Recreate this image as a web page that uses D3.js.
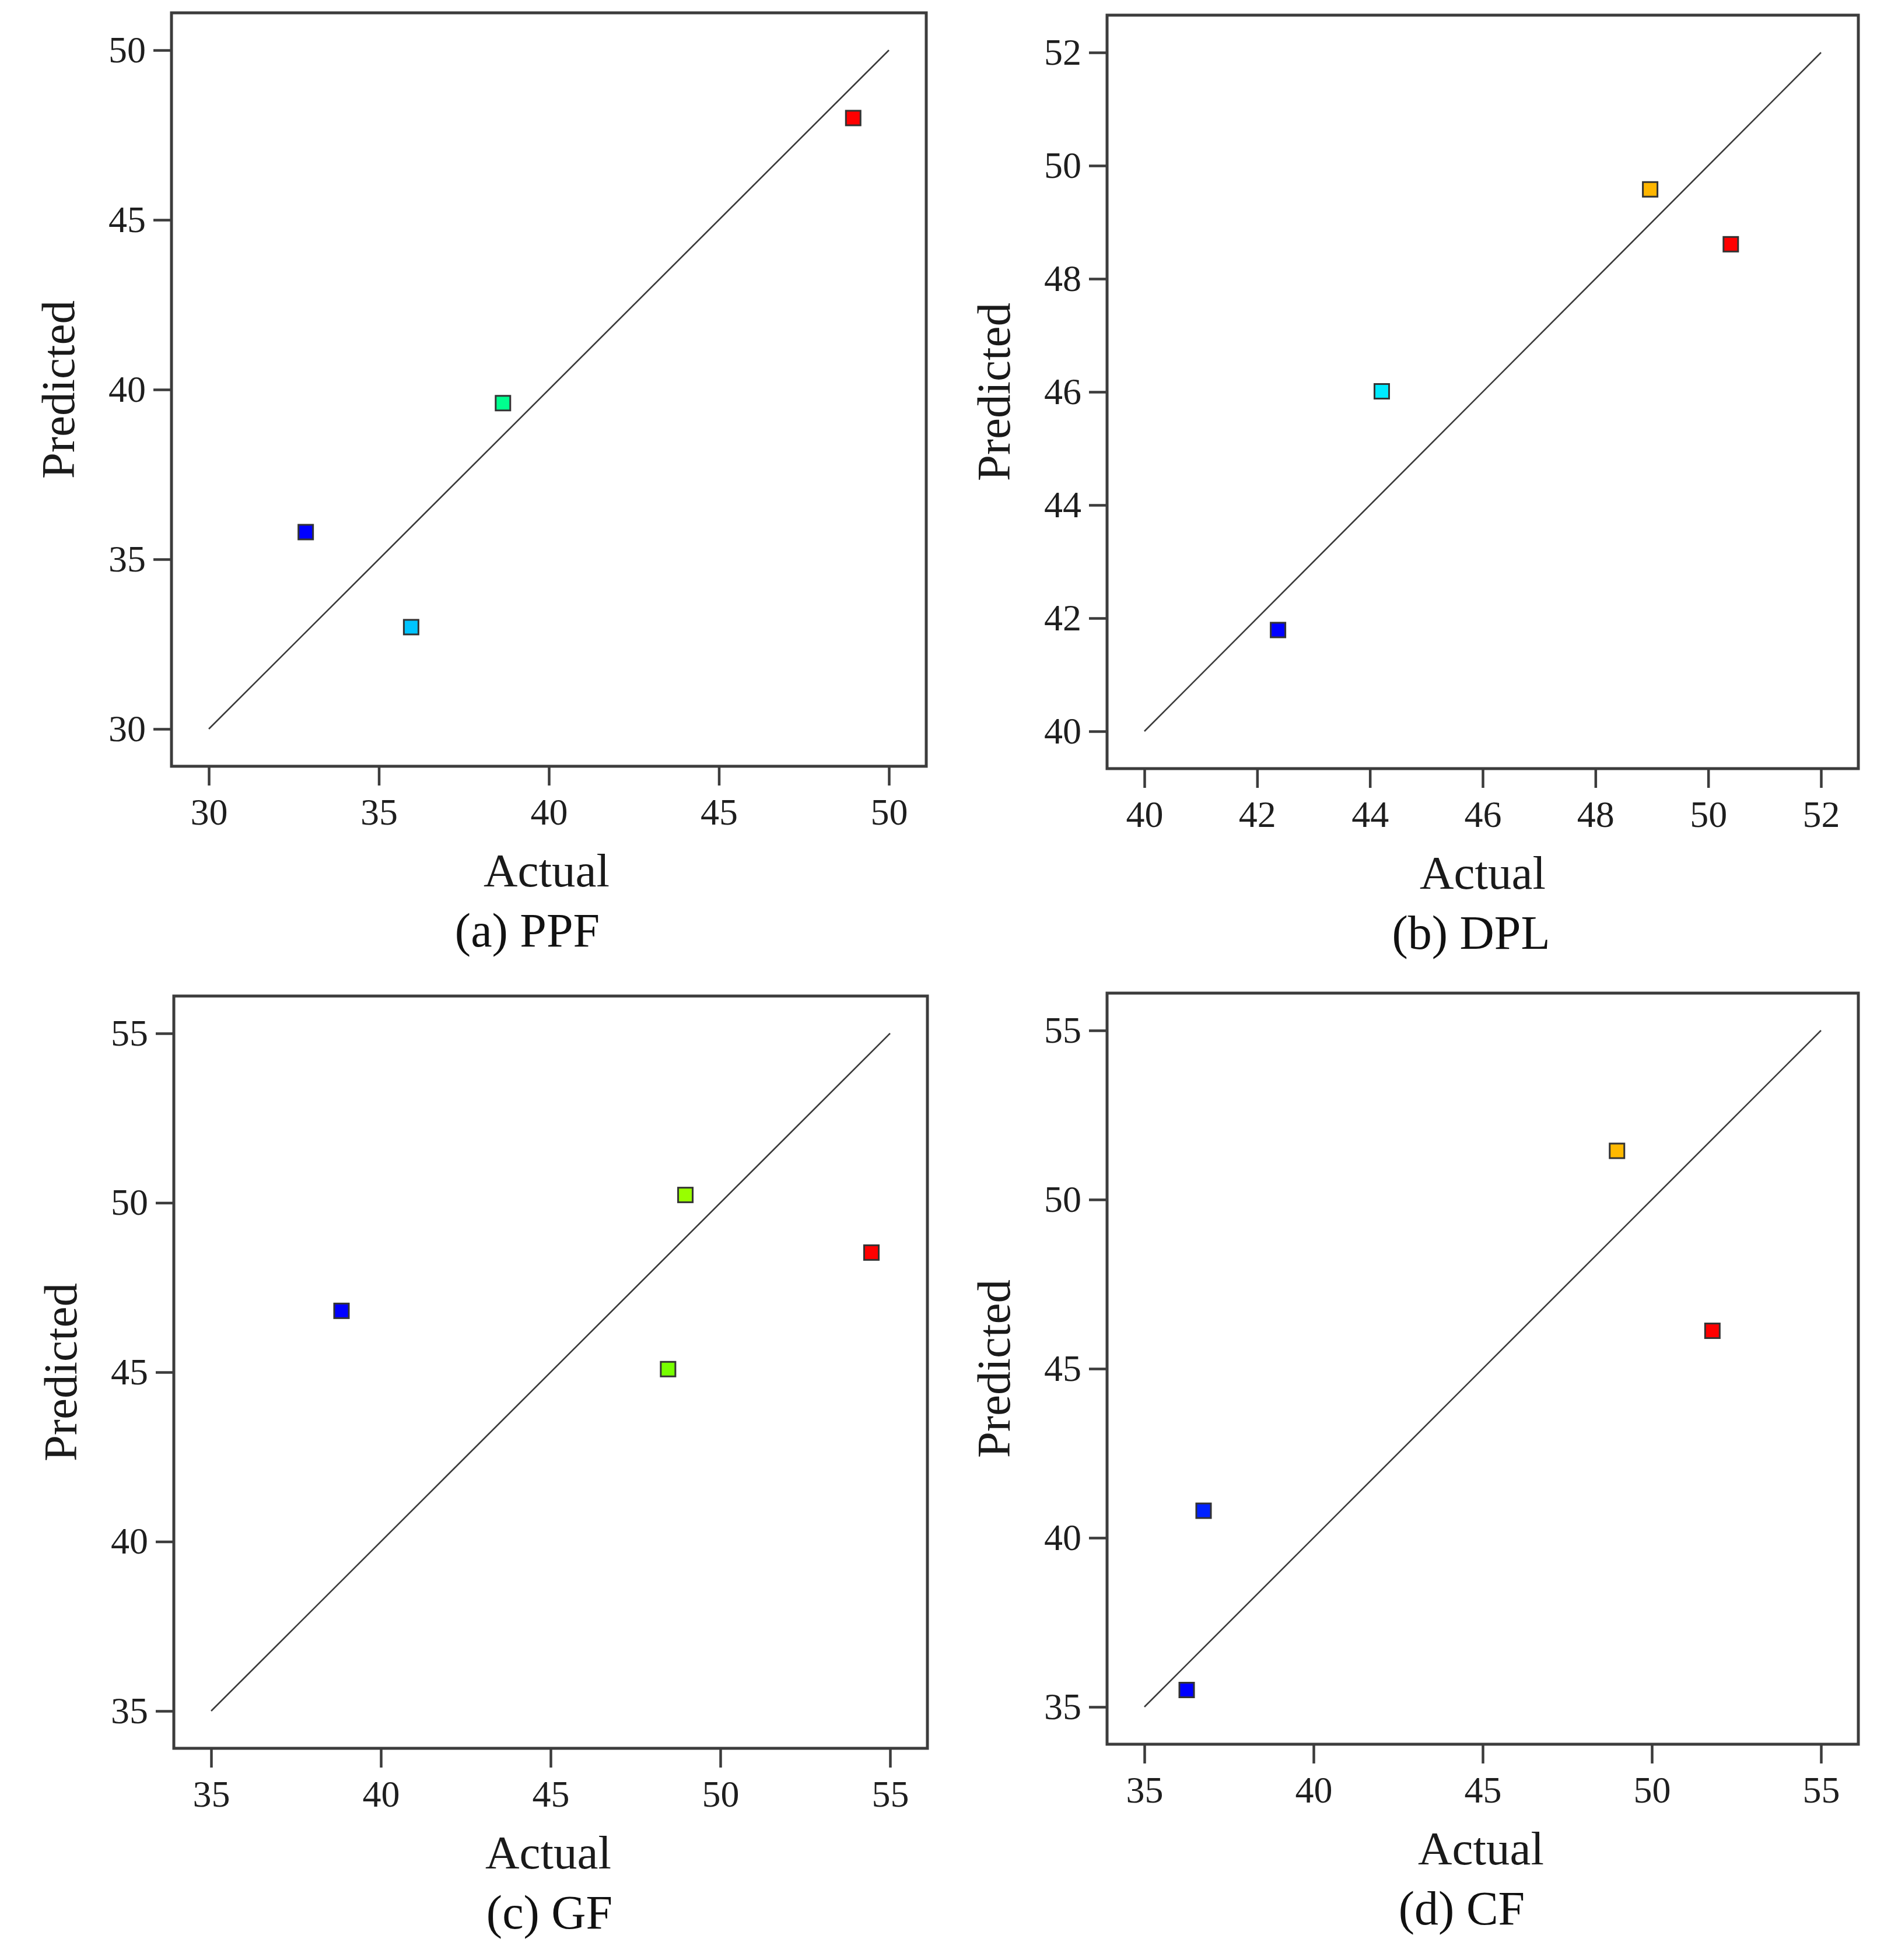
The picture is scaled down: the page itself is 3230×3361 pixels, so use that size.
<!DOCTYPE html>
<html>
<head>
<meta charset="utf-8">
<script src="https://cdn.jsdelivr.net/npm/d3@7"></script>
<style>
body { margin: 0; background: #fff; }
</style>
</head>
<body>
<script>
// tick values of each panel (same ticks on both axes)
var ppfTicks = [30, 35, 40, 45, 50];
var dplTicks = [40, 42, 44, 46, 48, 50, 52];
var gfTicks = [35, 40, 45, 50, 55];
var cfTicks = [35, 40, 45, 50, 55];

// actual vs predicted values
var ppfActual = [32.85, 35.95, 38.65, 48.95];
var ppfPredicted = [35.8, 33.0, 39.6, 48.0];

var dplActual = [42.37, 44.21, 48.97, 50.4];
var dplPredicted = [41.79, 46.01, 49.58, 48.61];

var gfActual = [38.84, 48.97, 48.46, 54.45];
var gfPredicted = [46.81, 50.23, 45.09, 48.53];

var cfActual = [36.75, 36.25, 48.97, 51.79];
var cfPredicted = [40.8, 35.5, 51.44, 46.12];

var captions = ["(a) PPF", "(b) DPL", "(c) GF", "(d) CF"];
var xTitle = "Actual";
var yTitle = "Predicted";

var W = 3230, H = 3361;
var font = "'Liberation Serif', 'Times New Roman', serif";

var svg = d3.select("body").append("svg")
    .attr("width", W)
    .attr("height", H);

//where each panel's frame sits, and where its captions are centred
var panels = [
    {ticks: ppfTicks, actual: ppfActual, predicted: ppfPredicted, caption: captions[0],
     x: 294, y: 22, w: 1294, h: 1292, titleX: 937, capX: 904},
    {ticks: dplTicks, actual: dplActual, predicted: dplPredicted, caption: captions[1],
     x: 1898, y: 26, w: 1288, h: 1292, titleX: 2542, capX: 2522},
    {ticks: gfTicks, actual: gfActual, predicted: gfPredicted, caption: captions[2],
     x: 298, y: 1708, w: 1292, h: 1290, titleX: 940, capX: 942},
    {ticks: cfTicks, actual: cfActual, predicted: cfPredicted, caption: captions[3],
     x: 1898, y: 1703, w: 1288, h: 1288, titleX: 2539, capX: 2506}
];

var pad = 64;

panels.forEach(drawPanel);

function drawPanel(p) {
    var lo = d3.min(p.ticks), hi = d3.max(p.ticks);

    var x = d3.scaleLinear()
        .domain([lo, hi])
        .range([p.x + pad, p.x + p.w - pad]);
    var y = d3.scaleLinear()
        .domain([lo, hi])
        .range([p.y + p.h - pad, p.y + pad]);

    //colour runs blue -> red over the actual values, like the original software
    var hue = d3.scaleLinear()
        .domain(d3.extent(p.actual))
        .range([240, 0]);

    var g = svg.append("g");

    //x axis
    var xa = g.append("g")
        .attr("transform", "translate(0," + (p.y + p.h) + ")")
        .call(d3.axisBottom(x).tickValues(p.ticks).tickSize(33).tickPadding(22));
    //y axis
    var ya = g.append("g")
        .attr("transform", "translate(" + p.x + ",0)")
        .call(d3.axisLeft(y).tickValues(p.ticks).tickSize(31).tickPadding(13));

    [xa, ya].forEach(function(a) {
        a.select(".domain").remove();
        a.selectAll(".tick line")
            .attr("stroke", "#3c3c3c")
            .attr("stroke-width", 4.5);
        a.selectAll(".tick text")
            .attr("fill", "#1e1e1e")
            .style("font-family", font)
            .style("font-size", "64px");
    });

    //box round the plot
    g.append("rect")
        .attr("x", p.x)
        .attr("y", p.y)
        .attr("width", p.w)
        .attr("height", p.h)
        .attr("fill", "none")
        .attr("stroke", "#3c3c3c")
        .attr("stroke-width", 5);

    //the 1:1 line
    g.append("line")
        .attr("x1", x(lo))
        .attr("y1", y(lo))
        .attr("x2", x(hi))
        .attr("y2", y(hi))
        .attr("stroke", "#3a3a3a")
        .attr("stroke-width", 2.6);

    //points
    var pts = p.actual.map(function(a, i) {
        return {a: a, p: p.predicted[i]};
    });
    var s = 25;
    g.selectAll("rect.pt")
        .data(pts)
        .enter()
        .append("rect")
        .attr("class", "pt")
        .attr("x", function(d) { return x(d.a) - s / 2; })
        .attr("y", function(d) { return y(d.p) - s / 2; })
        .attr("width", s)
        .attr("height", s)
        .attr("fill", function(d) { return d3.hsl(hue(d.a), 1, 0.5).toString(); })
        .attr("stroke", "#333")
        .attr("stroke-width", 3);

    //titles
    g.append("text")
        .attr("x", p.titleX)
        .attr("y", p.y + p.h + 206)
        .attr("text-anchor", "middle")
        .attr("fill", "#1a1a1a")
        .style("font-family", font)
        .style("font-size", "81px")
        .text(xTitle);

    g.append("text")
        .attr("transform", "translate(" + (p.x - 167) + "," + (p.y + p.h / 2) + ") rotate(-90)")
        .attr("text-anchor", "middle")
        .attr("fill", "#1a1a1a")
        .style("font-family", font)
        .style("font-size", "81px")
        .text(yTitle);

    g.append("text")
        .attr("x", p.capX)
        .attr("y", p.y + p.h + 309)
        .attr("text-anchor", "middle")
        .attr("fill", "#111")
        .style("font-family", font)
        .style("font-size", "82px")
        .text(p.caption);
}
</script>
</body>
</html>
